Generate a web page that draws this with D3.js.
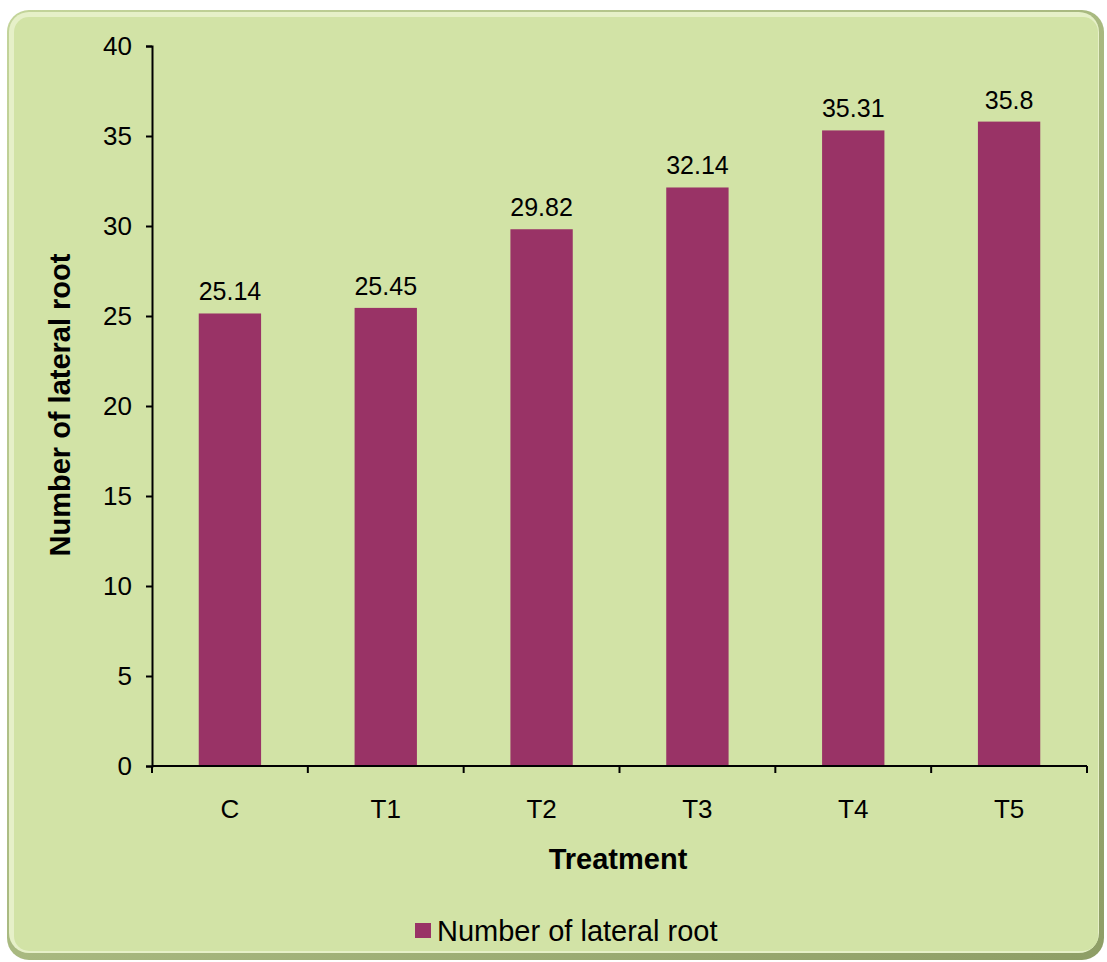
<!DOCTYPE html>
<html>
<head>
<meta charset="utf-8">
<script src="https://cdn.jsdelivr.net/npm/d3@7"></script>
<style>
  body { margin: 0; background: #ffffff; }
  svg { display: block; font-family: "Liberation Sans", Arial, sans-serif; }
</style>
</head>
<body>
<svg id="chart" width="1107" height="962"></svg>
<script>
// Chart data
const treatments = ['C', 'T1', 'T2', 'T3', 'T4', 'T5'];
const lateralRoots = [25.14, 25.45, 29.82, 32.14, 35.31, 35.8];
const yTicks = [0, 5, 10, 15, 20, 25, 30, 35, 40];
const seriesName = 'Number of lateral root';

const svg = d3.select('#chart');
const defs = svg.append('defs');

// soft bevel look on the panel edge
const grad = defs.append('linearGradient').attr('id', 'edge')
    .attr('x1', 0).attr('y1', 0).attr('x2', 1).attr('y2', 1);
grad.append('stop').attr('offset', '0%').attr('stop-color', '#c3d49a');
grad.append('stop').attr('offset', '100%').attr('stop-color', '#8e9e66');

svg.append('rect')
    .attr('x', 7).attr('y', 10).attr('width', 1097).attr('height', 950)
    .attr('rx', 22)
    .attr('fill', 'url(#edge)');
svg.append('rect')
    .attr('x', 9).attr('y', 12).attr('width', 1090).attr('height', 941)
    .attr('rx', 20)
    .attr('fill', '#e6f0c8');
svg.append('rect')
    .attr('x', 14).attr('y', 17).attr('width', 1084).attr('height', 934)
    .attr('rx', 15)
    .attr('fill', '#d2e3a6');

const margin = { top: 46, left: 152 };
const innerW = 1087 - margin.left;
const innerH = 766 - margin.top;

const g = svg.append('g').attr('transform', `translate(${margin.left},${margin.top})`);

const x = d3.scaleBand().domain(treatments).range([0, innerW]);
const y = d3.scaleLinear().domain([0, 40]).range([innerH, 0]);

const barW = x.step() * 0.4;

g.selectAll('rect.bar')
    .data(treatments)
    .enter()
    .append('rect')
    .attr('class', 'bar')
    .attr('x', d => x(d) + (x.bandwidth() - barW) / 2)
    .attr('y', (d, i) => y(lateralRoots[i]))
    .attr('width', barW)
    .attr('height', (d, i) => innerH - y(lateralRoots[i]))
    .attr('fill', '#993366');

// value labels
g.selectAll('text.val')
    .data(treatments)
    .enter()
    .append('text')
    .attr('class', 'val')
    .attr('x', d => x(d) + x.bandwidth() / 2)
    .attr('y', (d, i) => y(lateralRoots[i]) - 13)
    .attr('text-anchor', 'middle')
    .style('font-size', '25px')
    .text((d, i) => lateralRoots[i]);

// Y axis
const yAxis = g.append('g')
    .call(d3.axisLeft(y).tickValues(yTicks).tickSize(6).tickPadding(14));
yAxis.select('.domain').attr('stroke', '#000').attr('stroke-width', 2);
yAxis.selectAll('.tick line').attr('stroke', '#000').attr('stroke-width', 2);
yAxis.selectAll('text').style('font-size', '26px').attr('fill', '#000');

// X axis with ticks at band edges
const xAxis = g.append('g').attr('transform', `translate(0,${innerH})`);
xAxis.append('line')
    .attr('x1', 0).attr('x2', innerW)
    .attr('stroke', '#000').attr('stroke-width', 2);
xAxis.selectAll('line.tk')
    .data(treatments.map((d, i) => i).concat([treatments.length]))
    .enter()
    .append('line')
    .attr('class', 'tk')
    .attr('x1', i => i * x.step()).attr('x2', i => i * x.step())
    .attr('y1', 0).attr('y2', 7)
    .attr('stroke', '#000').attr('stroke-width', 2);
xAxis.selectAll('text')
    .data(treatments)
    .enter()
    .append('text')
    .attr('x', d => x(d) + x.bandwidth() / 2)
    .attr('y', 52)
    .attr('text-anchor', 'middle')
    .style('font-size', '26px')
    .text(d => d);

// axis titles
svg.append('text')
    .attr('transform', 'rotate(-90)')
    .attr('x', -405)
    .attr('y', 70)
    .attr('text-anchor', 'middle')
    .style('font-size', '29px')
    .style('font-weight', 'bold')
    .text(seriesName);

svg.append('text')
    .attr('x', 618)
    .attr('y', 869)
    .attr('text-anchor', 'middle')
    .style('font-size', '29px')
    .style('font-weight', 'bold')
    .text('Treatment');

// legend
const legend = svg.append('g').attr('transform', 'translate(415,923)');
legend.append('rect')
    .attr('x', 0).attr('y', 0).attr('width', 16).attr('height', 15)
    .attr('fill', '#993366');
legend.append('text')
    .attr('x', 22).attr('y', 18)
    .style('font-size', '29px')
    .text(seriesName);
</script>
</body>
</html>
